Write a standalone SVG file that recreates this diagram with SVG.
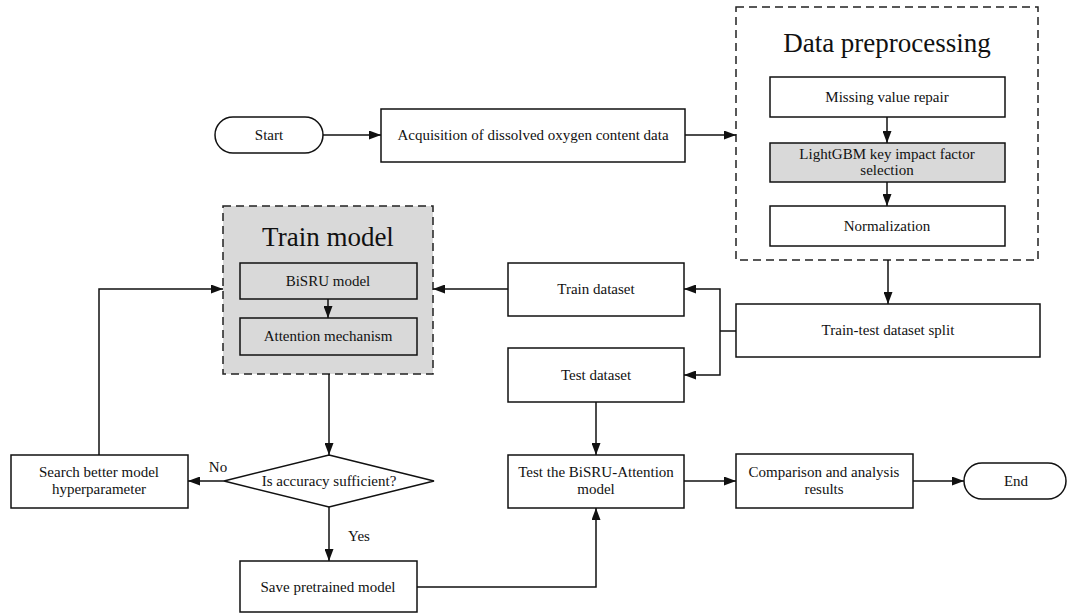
<svg xmlns="http://www.w3.org/2000/svg" width="1068" height="614" viewBox="0 0 1068 614" font-family="Liberation Serif">
<style>
text{fill:#111;text-anchor:middle}
.t{font-size:15px}
.h{font-size:27px}
.box{fill:#fff;stroke:#111;stroke-width:1.5}
.gbox{fill:#d9d9d9;stroke:#111;stroke-width:1.5}
.dash{stroke:#222;stroke-width:1.5;stroke-dasharray:8 5}
.c{fill:none;stroke:#111;stroke-width:1.5}
</style>
<defs>
<marker id="ah" markerWidth="12" markerHeight="9" refX="12" refY="4.5" orient="auto" markerUnits="userSpaceOnUse">
<path d="M0,0 L12,4.5 L0,9 Z" fill="#111"/>
</marker>
</defs>
<rect width="1068" height="614" fill="#fff"/>

<g id="start"><rect class="box" x="215" y="117" width="108" height="36" rx="18"/><text class="t" font-family="Liberation Serif" x="269" y="140">Start</text></g>
<g id="acq"><rect class="box" x="381" y="109" width="304" height="53"/><text class="t" font-family="Liberation Serif" x="533" y="140">Acquisition of dissolved oxygen content data</text></g>

<g id="preprocessing"><rect class="dash" fill="none" x="736" y="7" width="302" height="253"/><text class="h" font-family="Liberation Serif" x="887" y="52">Data preprocessing</text></g>
<g id="missing"><rect class="box" x="770" y="77" width="235" height="40"/><text class="t" font-family="Liberation Serif" x="887" y="102">Missing value repair</text></g>
<g id="lightgbm"><rect class="gbox" x="770" y="143" width="235" height="39"/><text class="t" font-family="Liberation Serif" x="887" y="159">LightGBM key impact factor</text><text class="t" font-family="Liberation Serif" x="887" y="175">selection</text></g>
<g id="normalization"><rect class="box" x="770" y="206" width="235" height="40"/><text class="t" font-family="Liberation Serif" x="887" y="231">Normalization</text></g>

<g id="split"><rect class="box" x="736" y="304" width="304" height="53"/><text class="t" font-family="Liberation Serif" x="888" y="335">Train-test dataset split</text></g>
<g id="traindata"><rect class="box" x="508" y="263" width="176" height="53"/><text class="t" font-family="Liberation Serif" x="596" y="294">Train dataset</text></g>
<g id="testdata"><rect class="box" x="508" y="348" width="176" height="54"/><text class="t" font-family="Liberation Serif" x="596" y="380">Test dataset</text></g>

<g id="trainmodel"><rect class="dash" fill="#d9d9d9" x="223" y="206" width="210" height="168"/><text class="h" font-family="Liberation Serif" x="328" y="246">Train model</text></g>
<g id="bisru"><rect class="gbox" x="240" y="263" width="177" height="36"/><text class="t" font-family="Liberation Serif" x="328" y="286">BiSRU model</text></g>
<g id="attention"><rect class="gbox" x="240" y="318" width="177" height="37"/><text class="t" font-family="Liberation Serif" x="328" y="341">Attention mechanism</text></g>

<g id="decision"><polygon class="box" points="329,455 434,481 329,507 224,481"/><text class="t" font-family="Liberation Serif" x="329" y="486">Is accuracy sufficient?</text></g>
<g id="search"><rect class="box" x="11" y="455" width="177" height="53"/><text class="t" font-family="Liberation Serif" x="99" y="477">Search better model</text><text class="t" font-family="Liberation Serif" x="99" y="494">hyperparameter</text></g>
<g id="save"><rect class="box" x="240" y="561" width="177" height="51"/><text class="t" font-family="Liberation Serif" x="328" y="592">Save pretrained model</text></g>
<g id="testmodel"><rect class="box" x="508" y="455" width="176" height="53"/><text class="t" font-family="Liberation Serif" x="596" y="477">Test the BiSRU-Attention</text><text class="t" font-family="Liberation Serif" x="596" y="494">model</text></g>
<g id="comparison"><rect class="box" x="736" y="454" width="177" height="54"/><text class="t" font-family="Liberation Serif" x="824" y="477">Comparison and analysis</text><text class="t" font-family="Liberation Serif" x="824" y="494">results</text></g>
<g id="end"><rect class="box" x="964" y="463" width="102" height="36" rx="18"/><text class="t" font-family="Liberation Serif" x="1016" y="486">End</text></g>

<g id="connectors">
<path class="c" d="M323,135 H381" marker-end="url(#ah)"/>
<path class="c" d="M685,135 H736" marker-end="url(#ah)"/>
<path class="c" d="M887,117 V143" marker-end="url(#ah)"/>
<path class="c" d="M887,182 V206" marker-end="url(#ah)"/>
<path class="c" d="M888,260 V304" marker-end="url(#ah)"/>
<path class="c" d="M736,331 H720"/>
<path class="c" d="M720,331 V289 H684" marker-end="url(#ah)"/>
<path class="c" d="M720,331 V375 H684" marker-end="url(#ah)"/>
<path class="c" d="M508,289 H433" marker-end="url(#ah)"/>
<path class="c" d="M328,299 V318" marker-end="url(#ah)"/>
<path class="c" d="M329,374 V455" marker-end="url(#ah)"/>
<path class="c" d="M224,481 H188" marker-end="url(#ah)"/>
<path class="c" d="M99,455 V289 H223" marker-end="url(#ah)"/>
<path class="c" d="M329,507 V561" marker-end="url(#ah)"/>
<path class="c" d="M417,587 H596 V508" marker-end="url(#ah)"/>
<path class="c" d="M596,402 V455" marker-end="url(#ah)"/>
<path class="c" d="M684,481 H736" marker-end="url(#ah)"/>
<path class="c" d="M913,481 H964" marker-end="url(#ah)"/>
<text class="t" font-family="Liberation Serif" x="218" y="472">No</text>
<text class="t" font-family="Liberation Serif" x="359" y="541">Yes</text>
</g>
</svg>
